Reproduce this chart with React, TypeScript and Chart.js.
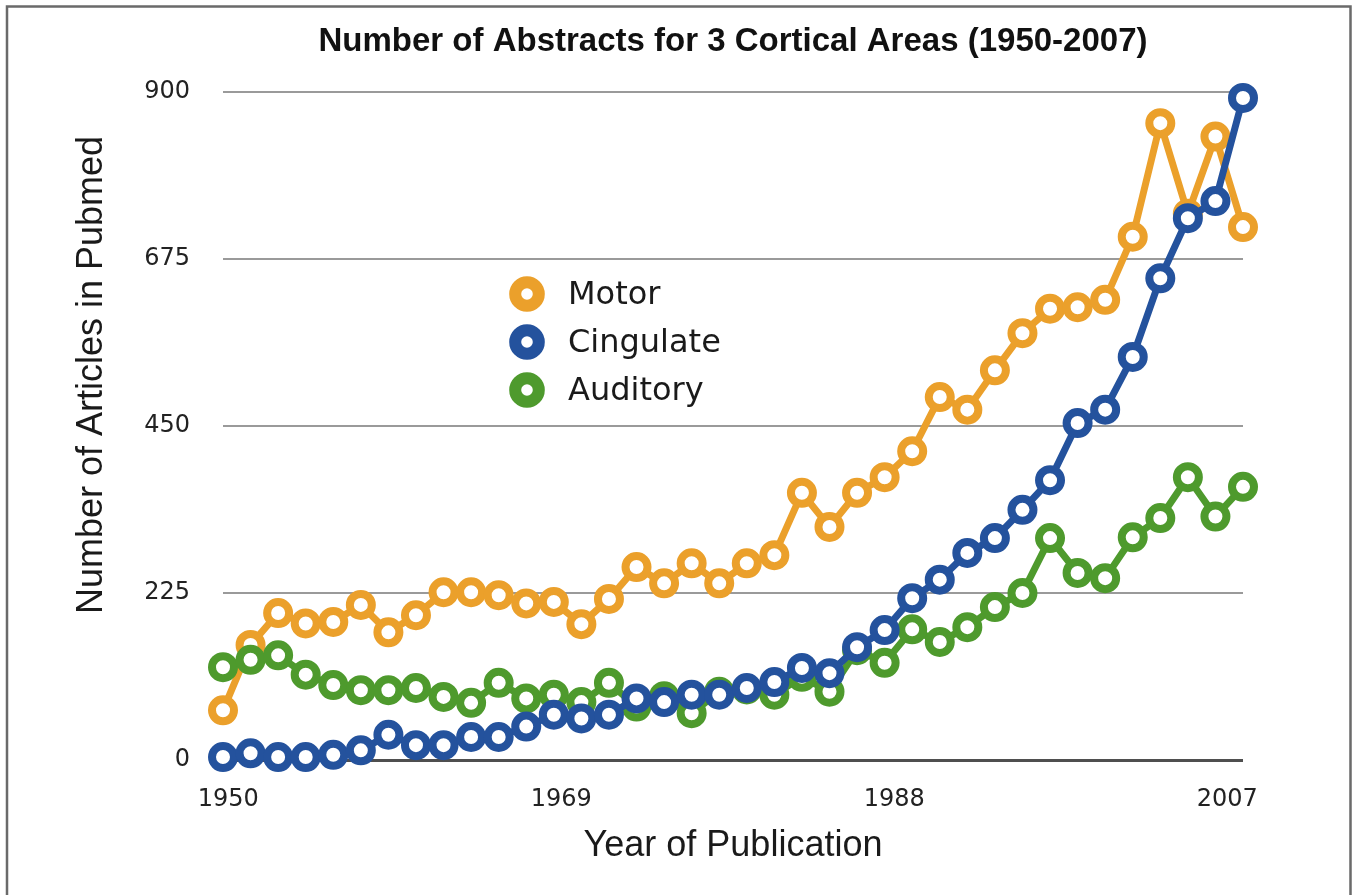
import React, { useEffect, useRef } from 'react';
import { Chart, registerables } from 'chart.js';

Chart.register(...registerables);

const chartTitle = 'Number of Abstracts for 3 Cortical Areas (1950-2007)';
const xAxisTitle = 'Year of Publication';
const yAxisTitle = 'Number of Articles in Pubmed';

// 38 sample points drawn evenly between 1950 and 2007
const pointLabels = [
  '1', '2', '3', '4', '5', '6', '7', '8', '9', '10',
  '11', '12', '13', '14', '15', '16', '17', '18', '19', '20',
  '21', '22', '23', '24', '25', '26', '27', '28', '29', '30',
  '31', '32', '33', '34', '35', '36', '37', '38',
];
const yearTicks = [1950, 1969, 1988, 2007];
const yTicks = [0, 225, 450, 675, 900];

const seriesNames = ['Motor', 'Cingulate', 'Auditory'];
const seriesColors = ['#EBA02B', '#24529D', '#4E9A2D'];

const motor = [
  67, 155, 198, 184, 186, 209, 172, 195, 226, 226,
  222, 211, 213, 183, 217, 260, 238, 265, 238, 265,
  276, 360, 314, 360, 381, 416, 489, 472, 525, 575,
  608, 610, 620, 705, 858, 736, 840, 718,
];
const cingulate = [
  4, 9, 4, 4, 7, 13, 34, 20, 20, 31,
  31, 45, 61, 56, 61, 83, 78, 88, 88, 97,
  105, 124, 117, 152, 175, 218, 243, 279, 299, 337,
  377, 454, 472, 543, 649, 730, 753, 892,
];
const auditory = [
  125, 135, 141, 115, 101, 94, 94, 97, 85, 77,
  104, 83, 88, 78, 104, 72, 86, 63, 92, 95,
  88, 112, 92, 148, 131, 176, 159, 179, 206, 225,
  299, 252, 245, 300, 326, 381, 328, 368,
];

const seriesData = [motor, cingulate, auditory];
const drawOrder = [2, 0, 1]; // Cingulate on top, then Auditory, Motor at the back

const framePlugin = {
  id: 'frame',
  beforeDraw(chart: any) {
    const { ctx, width, height } = chart;
    ctx.save();
    ctx.fillStyle = '#ffffff';
    ctx.fillRect(0, 0, width, height);
    ctx.restore();
  },
  afterDraw(chart: any) {
    const { ctx, width, height } = chart;
    ctx.save();
    ctx.strokeStyle = '#6a6a6a';
    ctx.lineWidth = 2.5;
    ctx.beginPath();
    ctx.moveTo(7, height);
    ctx.lineTo(7, 6.5);
    ctx.lineTo(width - 2.5, 6.5);
    ctx.lineTo(width - 2.5, height);
    ctx.stroke();
    ctx.restore();
  },
};

const yTitlePlugin = {
  id: 'yTitle',
  afterDraw(chart: any) {
    const { ctx } = chart;
    ctx.save();
    ctx.translate(102, 375);
    ctx.rotate(-Math.PI / 2);
    ctx.font = '36px "Liberation Sans", Arial, sans-serif';
    ctx.fillStyle = '#1a1a1a';
    ctx.textAlign = 'center';
    ctx.textBaseline = 'alphabetic';
    ctx.fillText(yAxisTitle, 0, 0);
    ctx.restore();
  },
};

const floatingLegendPlugin = {
  id: 'floatingLegend',
  afterDatasetsDraw(chart: any) {
    const { ctx, chartArea } = chart;
    const x0 = chartArea.left + 304;
    const y0 = chartArea.top + 202;
    const gap = 48;
    chart.data.datasets.forEach((ds: any, i: number) => {
      const cy = y0 + i * gap;
      ctx.save();
      ctx.beginPath();
      ctx.arc(x0, cy, 11.8, 0, Math.PI * 2);
      ctx.fillStyle = '#ffffff';
      ctx.fill();
      ctx.lineWidth = 12;
      ctx.strokeStyle = ds.borderColor;
      ctx.stroke();
      ctx.font = '32px "DejaVu Sans", sans-serif';
      ctx.fillStyle = '#1a1a1a';
      ctx.textAlign = 'left';
      ctx.textBaseline = 'middle';
      ctx.fillText(ds.label, x0 + 41, cy + 2);
      ctx.restore();
    });
  },
};

export default function App() {
  const canvasRef = useRef<HTMLCanvasElement | null>(null);

  useEffect(() => {
    const canvas = canvasRef.current;
    if (!canvas) return;
    const chart = new Chart(canvas, {
      type: 'line',
      data: {
        labels: pointLabels,
        datasets: seriesNames.map((name, i) => ({
          label: name,
          data: seriesData[i],
          order: drawOrder[i],
          borderColor: seriesColors[i],
          backgroundColor: seriesColors[i],
          borderWidth: 7,
          pointRadius: 11,
          pointHoverRadius: 11,
          pointBorderWidth: 8,
          pointBorderColor: seriesColors[i],
          pointBackgroundColor: '#ffffff',
          pointStyle: 'circle',
          tension: 0,
          clip: false as any,
          fill: false,
        })),
      },
      options: {
        responsive: false,
        animation: false,
        devicePixelRatio: 1,
        layout: { padding: { left: 0, right: 110, top: 0, bottom: 0 } },
        plugins: {
          legend: { display: false },
          tooltip: { enabled: false },
          title: {
            display: true,
            text: chartTitle,
            fullSize: false,
            color: '#111111',
            font: { family: '"Liberation Sans", Arial, sans-serif', size: 33, weight: 'bold' },
            padding: { top: 22, bottom: 30.4 },
          },
        },
        scales: {
          x: { type: 'category', display: false, offset: false },
          xYear: {
            type: 'linear',
            position: 'bottom',
            min: 1949.7,
            max: 2007.9,
            afterBuildTicks: (s: any) => {
              s.ticks = yearTicks.map((v) => ({ value: v }));
            },
            afterFit: (s: any) => {
              s.height = 135;
            },
            ticks: {
              color: '#222222',
              font: { family: '"DejaVu Sans", sans-serif', size: 24 },
              padding: 17,
              maxRotation: 0,
              callback: (v: any) => String(v),
            },
            grid: { display: false },
            border: { display: false },
            title: {
              display: true,
              text: xAxisTitle,
              color: '#1a1a1a',
              font: { family: '"Liberation Sans", Arial, sans-serif', size: 36 },
              padding: { top: 0, bottom: 27 },
            },
          },
          y: {
            type: 'linear',
            min: yTicks[0],
            max: yTicks[yTicks.length - 1],
            afterBuildTicks: (s: any) => {
              s.ticks = yTicks.map((v) => ({ value: v }));
            },
            afterFit: (s: any) => {
              s.width = 223;
            },
            ticks: {
              color: '#222222',
              font: { family: '"DejaVu Sans", sans-serif', size: 24 },
              padding: 33,
              callback: (v: any) => String(v),
            },
            grid: {
              drawTicks: false,
              color: (c: any) => (c.tick && c.tick.value === 0 ? '#4f4f4f' : '#9a9a9a'),
              lineWidth: (c: any) => (c.tick && c.tick.value === 0 ? 3 : 2),
            },
            border: { display: false },
          },
        },
      } as any,
      plugins: [framePlugin, yTitlePlugin, floatingLegendPlugin],
    });
    return () => chart.destroy();
  }, []);

  return (
    <div style={{ position: 'absolute', left: 0, top: 0, width: 1353, height: 895, background: '#fff' }}>
      <canvas ref={canvasRef} width={1353} height={895} style={{ display: 'block' }} />
    </div>
  );
}
